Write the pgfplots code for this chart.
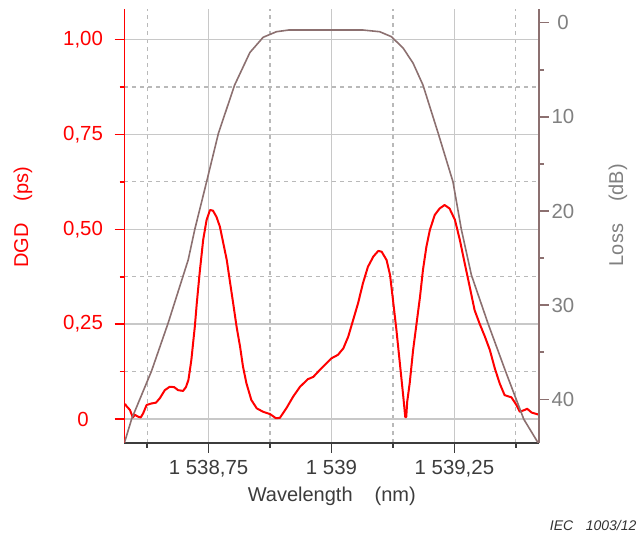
\documentclass[border=0pt]{standalone}
\usepackage{pgfplots}
\pgfplotsset{compat=1.18}
\usepackage{fontspec}
\setmainfont{Liberation Sans}
\definecolor{dgdred}{RGB}{255,0,0}
\definecolor{lossbrown}{RGB}{140,112,112}
\definecolor{lossgray}{RGB}{128,128,128}
\definecolor{gridgray}{RGB}{200,200,200}
\definecolor{mgridgray}{RGB}{185,185,185}
\definecolor{axisdark}{RGB}{60,60,60}

\pgfplotstableread{
x y
1538.580 0.040
1538.583 0.034
1538.590 0.024
1538.596 0.004
1538.600 0.011
1538.607 0.006
1538.612 0.004
1538.617 0.015
1538.624 0.037
1538.634 0.041
1538.643 0.043
1538.651 0.055
1538.661 0.076
1538.671 0.085
1538.680 0.084
1538.688 0.076
1538.698 0.074
1538.704 0.084
1538.709 0.103
1538.712 0.129
1538.715 0.156
1538.719 0.206
1538.722 0.243
1538.726 0.305
1538.732 0.387
1538.739 0.472
1538.746 0.525
1538.753 0.551
1538.759 0.549
1538.766 0.533
1538.773 0.507
1538.780 0.463
1538.787 0.419
1538.793 0.366
1538.800 0.305
1538.807 0.243
1538.814 0.191
1538.820 0.138
1538.827 0.094
1538.837 0.050
1538.848 0.028
1538.861 0.019
1538.875 0.013
1538.887 0.002
1538.895 0.003
1538.909 0.030
1538.922 0.059
1538.936 0.085
1538.952 0.105
1538.963 0.111
1538.976 0.129
1538.990 0.147
1539.000 0.160
1539.013 0.169
1539.024 0.186
1539.034 0.217
1539.044 0.261
1539.054 0.305
1539.064 0.358
1539.074 0.401
1539.085 0.428
1539.095 0.443
1539.102 0.441
1539.112 0.419
1539.119 0.380
1539.125 0.314
1539.132 0.235
1539.139 0.147
1539.146 0.059
1539.150 0.005
1539.152 0.005
1539.154 0.046
1539.159 0.094
1539.166 0.182
1539.173 0.252
1539.180 0.322
1539.186 0.393
1539.193 0.454
1539.200 0.498
1539.210 0.538
1539.220 0.555
1539.230 0.564
1539.240 0.555
1539.251 0.525
1539.261 0.472
1539.271 0.410
1539.281 0.349
1539.291 0.287
1539.301 0.252
1539.312 0.217
1539.322 0.182
1539.332 0.134
1539.342 0.094
1539.352 0.063
1539.366 0.057
1539.376 0.037
1539.383 0.019
1539.393 0.024
1539.398 0.027
1539.407 0.017
1539.420 0.012
}\dgdtable

\pgfplotstableread{
x y
1538.579 44.60
1538.5935 42.09
1538.634 36.99
1538.668 31.86
1538.7085 25.20
1538.722 21.94
1538.746 16.89
1538.770 11.75
1538.803 6.62
1538.834 3.17
1538.861 1.55
1538.888 0.96
1538.913 0.78
1539.064 0.78
1539.098 0.96
1539.122 1.49
1539.146 2.72
1539.166 4.31
1539.186 6.62
1539.217 11.75
1539.247 16.89
1539.264 21.94
1539.2845 26.80
1539.318 31.90
1539.354 37.03
1539.391 42.11
1539.420 44.61
}\losstable

\begin{document}
\begin{tikzpicture}
\useasboundingbox (-62.25pt,-47.65pt) rectangle (259.75pt,221.35pt);
\begin{axis}[
  at={(0,0)}, anchor=south west,
  scale only axis, width=207.25pt, height=216.7pt,
  xmin=1538.579, xmax=1539.422,
  ymin=-0.0625, ymax=1.0799,
  axis x line*=bottom, axis y line*=left,
  xtick={1538.75,1539,1539.25},
  xticklabels={{1 538,75},{1 539},{1 539,25}},
  minor xtick={1538.625,1538.875,1539.125,1539.375},
  ytick={0,0.25,0.5,0.75,1},
  yticklabels={0,{0,25},{0,50},{0,75},{1,00}},
  minor ytick={0.125,0.375,0.625,0.875},
  grid=both,
  major grid style={gridgray, line width=0.7pt},
  minor grid style={mgridgray, line width=0.6pt, dash pattern=on 2pt off 2pt},
  tick align=outside,
  major tick length=5pt, minor tick length=2.5pt,
  x axis line style={axisdark, line width=0.8pt},
  x tick style={axisdark, line width=0.8pt},
  y axis line style={dgdred, line width=0.8pt},
  y tick style={dgdred, line width=0.8pt},
  xticklabel style={text=axisdark, font=\fontsize{10.2}{12}\selectfont},
  yticklabel style={anchor=center, xshift=-15.75pt, text=dgdred, font=\fontsize{10.2}{12}\selectfont},
  xlabel={Wavelength\hspace{1.1em}(nm)},
  ylabel={DGD\hspace{1.1em}(ps)},
  xlabel style={at={(axis description cs:0.5,0)}, anchor=center, yshift=-26.6pt, text=axisdark, font=\fontsize{10}{12}\selectfont},
  ylabel style={at={(axis description cs:-0.245,0.52)}, anchor=center, text=dgdred, font=\fontsize{10}{12}\selectfont},
]
\addplot[dgdred, line width=1pt, line join=round] table {\dgdtable};
\end{axis}
\begin{axis}[
  at={(0,0)}, anchor=south west,
  scale only axis, width=207.25pt, height=216.7pt,
  xmin=1538.579, xmax=1539.422,
  ymin=-1.42, ymax=44.61, y dir=reverse,
  axis y line*=right, axis x line=none,
  ytick={0,10,20,30,40},
  yticklabels={0,10,20,30,40},
  minor ytick={5,15,25,35},
  tick align=outside,
  major tick length=5pt, minor tick length=2.5pt,
  y axis line style={lossbrown, line width=0.8pt},
  y tick style={lossbrown, line width=0.8pt},
  yticklabel style={anchor=center, xshift=7pt, text=lossgray, font=\fontsize{10.2}{12}\selectfont},
  ylabel={Loss\hspace{1.1em}(dB)},
  ylabel style={at={(axis description cs:1.1906,0.525)}, anchor=center, text=lossgray, font=\fontsize{10}{12}\selectfont},
]
\addplot[lossbrown, line width=0.8pt, line join=round] table {\losstable};
\end{axis}
\node[anchor=east, text=black!80, font=\itshape\fontsize{7}{8}\selectfont] at (259.5pt,-41.15pt) {IEC\hspace{0.9em}1003/12};
\end{tikzpicture}
\end{document}
